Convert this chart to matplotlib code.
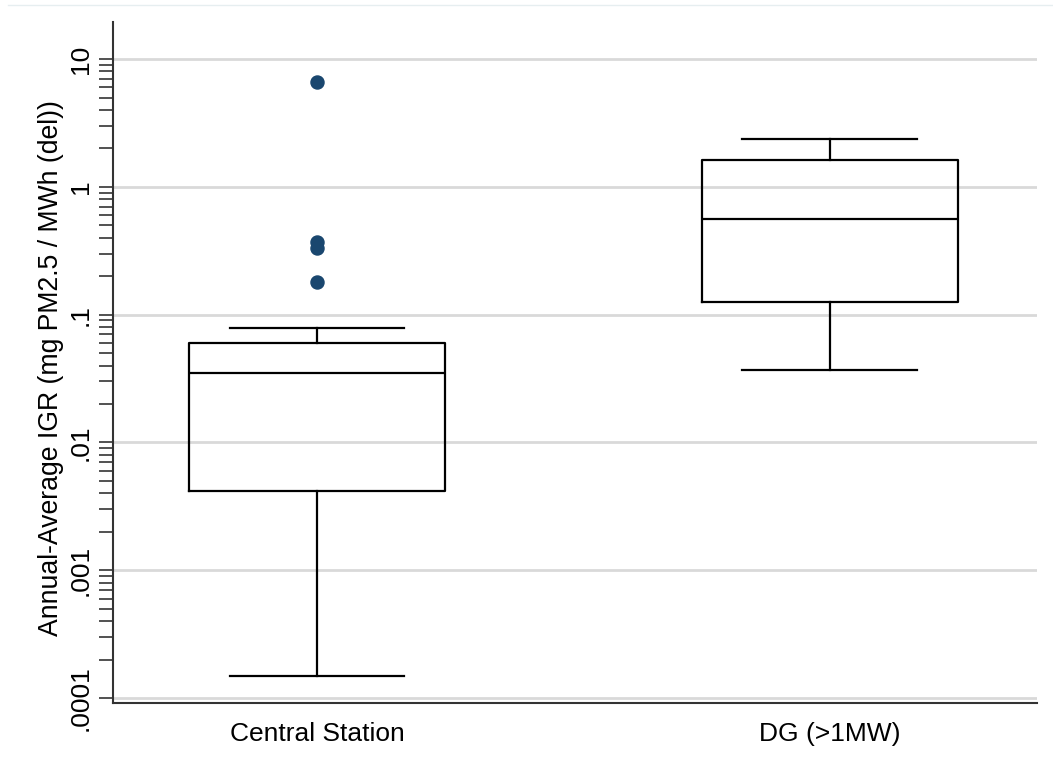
import matplotlib
matplotlib.use("Agg")
import matplotlib.pyplot as plt
from matplotlib.lines import Line2D
import numpy as np

plt.rcParams['font.family'] = ['Liberation Sans', 'DejaVu Sans']

categories = ["Central Station", "DG (>1MW)"]
whislo = [0.00015, 0.0367]
q1 = [0.0042, 0.125]
med = [0.035, 0.558]
q3 = [0.060, 1.61]
whishi = [0.078, 2.37]
fliers = [[6.6, 0.367, 0.33, 0.18], []]

ytick_vals = [0.0001, 0.001, 0.01, 0.1, 1, 10]
ytick_labels = [".0001", ".001", ".01", ".1", "1", "10"]

fig = plt.figure(figsize=(10.53, 7.69), dpi=100)
ax = fig.add_axes([112.5/1053, 1-702.5/769, (1037-112.5)/1053, (702.5-22)/769])

stats = []
for i, c in enumerate(categories):
    stats.append(dict(label=c, whislo=whislo[i], q1=q1[i], med=med[i],
                      q3=q3[i], whishi=whishi[i], fliers=fliers[i]))

lw = 1.6
ax.bxp(stats, positions=[1, 2], widths=0.5, capwidths=0.34,
       boxprops=dict(color='black', linewidth=lw),
       whiskerprops=dict(color='black', linewidth=lw),
       capprops=dict(color='black', linewidth=lw),
       medianprops=dict(color='black', linewidth=lw),
       flierprops=dict(marker='o', markersize=9.4, markerfacecolor='#1a476f',
                       markeredgecolor='#1a476f'),
       zorder=3)

ax.set_yscale('log')
ax.set_ylim(10**-4.035, 10**1.29)
ax.set_xlim(0.6, 2.405)

ax.set_yticks(ytick_vals)
ax.set_yticklabels(ytick_labels, rotation=90, va='center', fontsize=19)
ax.yaxis.set_minor_locator(matplotlib.ticker.LogLocator(base=10, subs=np.arange(2, 10)))
ax.yaxis.set_minor_formatter(matplotlib.ticker.NullFormatter())
ax.tick_params(axis='y', which='major', length=10, width=1.2, color='#333333', pad=4)
ax.tick_params(axis='y', which='minor', length=10, width=1.2, color='#333333')
ax.tick_params(axis='x', length=0, pad=14, labelsize=19)
ax.set_xticks([1, 2])
ax.set_xticklabels(categories)

ax.grid(axis='y', which='major', color='#d9d9d9', linewidth=2, zorder=0)
ax.set_axisbelow(True)

for s in ['top', 'right']:
    ax.spines[s].set_visible(False)
for s in ['left', 'bottom']:
    ax.spines[s].set_color('#333333')
    ax.spines[s].set_linewidth(1.5)

ax.set_ylabel("Annual-Average IGR (mg PM2.5 / MWh (del))", fontsize=19.2)
ax.yaxis.set_label_coords(-(112.5-64)/(1037-112.5), (702.5-368)/(702.5-22))

fig.add_artist(Line2D([8/1053, 1052/1053], [1-4.5/769, 1-4.5/769],
                      transform=fig.transFigure, color='#e6eef0', linewidth=1))

fig.savefig("out.png", dpi=100)
